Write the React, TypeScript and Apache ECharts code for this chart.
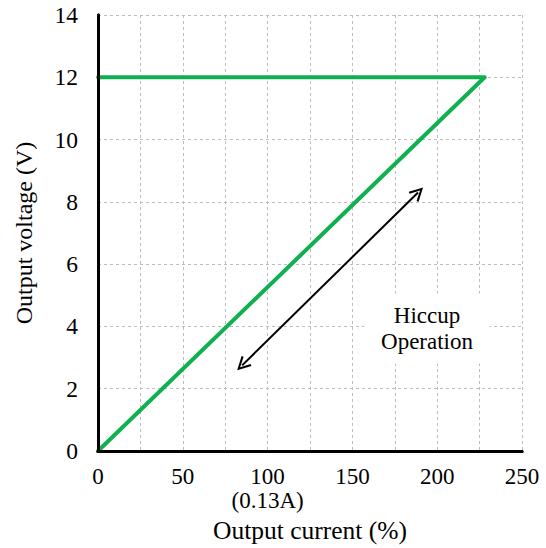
import React, { useEffect, useRef } from "react";
import * as echarts from "echarts";

const currentPct = [0, 228, 0];
const voltage = [12, 12, 0];
const xTicks = [0, 50, 100, 150, 200, 250];
const xTickNotes: Record<number, string> = { 100: "(0.13A)" };
const arrowStart = [85, 2.75];
const arrowEnd = [188.7, 8.3];
const noteText = "Hiccup\nOperation";
const notePos = [194, 3.93];

const FONT = "Liberation Serif";
const ARROW = "path://M5,0 L10,10 L8.6,10.7 L5,3.2 L1.4,10.7 L0,10 Z";

export default function App() {
  const ref = useRef<HTMLDivElement>(null);
  useEffect(() => {
    document.body.style.margin = "0";
    const chart = echarts.init(ref.current!, null, { renderer: "svg" });
    const data = currentPct.map((x, i) => [x, voltage[i]]);
    const gridLine = { show: true, lineStyle: { color: "#bdbdbd", type: [3, 3], width: 1 } };
    const blackLine = { show: true, lineStyle: { color: "#000", width: 3 } };
    chart.setOption({
      animation: false,
      backgroundColor: "#fff",
      textStyle: { fontFamily: FONT },
      grid: { left: 98, right: 24, top: 15, bottom: 95 },
      xAxis: [
        {
          type: "value",
          min: 0,
          max: 250,
          interval: 25,
          name: "Output current (%)",
          nameLocation: "middle",
          nameGap: 66,
          nameTextStyle: { fontFamily: FONT, fontSize: 25.5, color: "#000" },
          axisLine: blackLine,
          axisTick: { show: false },
          axisLabel: {
            margin: 13,
            fontFamily: FONT,
            fontSize: 23,
            color: "#000",
            lineHeight: 24,
            formatter: (v: number) =>
              xTicks.includes(v) ? (xTickNotes[v] ? `${v}\n${xTickNotes[v]}` : `${v}`) : "",
          },
          splitLine: gridLine,
          z: 1,
        },
        {
          type: "value",
          position: "top",
          min: 0,
          max: 250,
          interval: 25,
          axisLine: blackLine,
          axisTick: { show: false },
          axisLabel: { show: false },
          splitLine: { show: false },
          z: 5,
        },
      ],
      yAxis: [
        {
          type: "value",
          min: 0,
          max: 14,
          interval: 2,
          name: "Output voltage (V)",
          nameLocation: "middle",
          nameGap: 62,
          nameTextStyle: { fontFamily: FONT, fontSize: 24, color: "#000" },
          axisLine: blackLine,
          axisTick: { show: false },
          axisLabel: { margin: 20, fontFamily: FONT, fontSize: 23.5, color: "#000" },
          splitLine: gridLine,
          z: 1,
        },
        {
          type: "value",
          position: "right",
          min: 0,
          max: 14,
          interval: 2,
          axisLine: blackLine,
          axisTick: { show: false },
          axisLabel: { show: false },
          splitLine: { show: false },
          z: 5,
        },
      ],
      series: [
        {
          type: "line",
          data,
          symbol: "none",
          lineStyle: { color: "#0fb050", width: 4, join: "round", cap: "round" },
          z: 3,
          markLine: {
            silent: true,
            symbol: [ARROW, ARROW],
            symbolSize: [14, 14],
            label: { show: false },
            lineStyle: { color: "#000", width: 2, type: "solid" },
            data: [[{ coord: arrowStart }, { coord: arrowEnd }]],
          },
          markPoint: {
            silent: true,
            symbol: "rect",
            symbolSize: [125, 70],
            itemStyle: { color: "#fff" },
            label: {
              show: true,
              position: "inside",
              formatter: noteText,
              fontFamily: FONT,
              fontSize: 23,
              lineHeight: 26,
              color: "#000",
            },
            data: [{ coord: notePos }],
          },
        },
      ],
    });
    return () => chart.dispose();
  }, []);
  return <div ref={ref} style={{ width: 546, height: 548 }} />;
}
